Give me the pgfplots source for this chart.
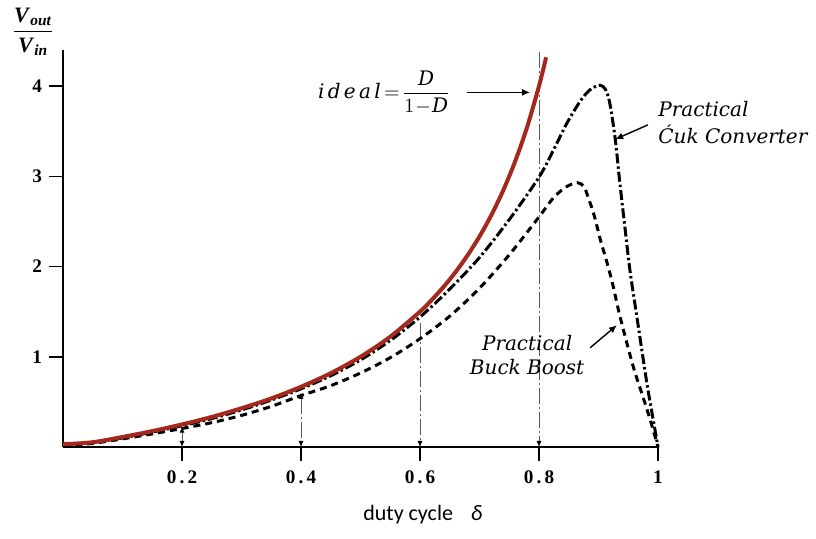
\documentclass[border=0pt]{standalone}
\usepackage{amsmath}
\usepackage{fontspec}
\setmainfont{Liberation Serif}
\newfontfamily\annot{DejaVu Serif}
\newfontfamily\labelf{Carlito}
\usepackage{pgfplots}
\pgfplotsset{compat=1.18}
\usetikzlibrary{arrows.meta}
\definecolor{idealred}{RGB}{165,40,28}
\definecolor{vline}{RGB}{90,90,90}

\begin{document}
\begin{tikzpicture}
\useasboundingbox (0,0) rectangle (408pt,269.5pt);
\begin{axis}[
  at={(31.5pt,46pt)}, anchor=south west,
  scale only axis, width=297.5pt, height=198.5pt,
  xmin=0, xmax=1, ymin=0, ymax=4.4,
  axis x line*=bottom, axis y line*=left,
  axis line style={-, line width=0.9pt},
  xtick={0.2,0.4,0.6,0.8,1},
  xticklabels={\textbf{0\,.\,2},\textbf{0\,.\,4},\textbf{0\,.\,6},\textbf{0\,.\,8},\textbf{1}},
  ytick={1,2,3,4},
  yticklabels={\textbf{1},\textbf{2},\textbf{3},\textbf{4}},
  tick align=outside, major tick length=7pt,
  tick style={line width=0.8pt, black},
  ticklabel style={font=\fontsize{9.6}{11}\selectfont},
  xticklabel style={yshift=-1.5pt},
  clip=false,
]
% vertical dash-dot guide lines
\addplot[vline, line width=0.5pt, dash pattern=on 8pt off 1.5pt on 1pt off 1.5pt,
  {Latex[length=3pt,width=2.6pt,black]}-{Latex[length=3pt,width=2.6pt,black]}]
  coordinates {(0.2,0.225) (0.2,0)};
\addplot[vline, line width=0.5pt, dash pattern=on 8pt off 1.5pt on 1pt off 1.5pt,
  {Latex[length=3pt,width=2.6pt,black]}-{Latex[length=3pt,width=2.6pt,black]}]
  coordinates {(0.4,0.6) (0.4,0)};
\addplot[vline, line width=0.5pt, dash pattern=on 8pt off 1.5pt on 1pt off 1.5pt,
  -{Latex[length=3pt,width=2.6pt,black]}]
  coordinates {(0.6,1.37) (0.6,0)};
\addplot[vline, line width=0.5pt, dash pattern=on 8pt off 1.5pt on 1pt off 1.5pt,
  -{Latex[length=3pt,width=2.6pt,black]}]
  coordinates {(0.8,4.38) (0.8,0)};

% practical buck boost (dashed)
\addplot[black, line width=1.5pt, dash pattern=on 3.5pt off 2.5pt, smooth, tension=0.5]
  coordinates {(0,0.01) (0.05,0.04) (0.1,0.09) (0.15,0.145) (0.2,0.205) (0.25,0.27)
  (0.3,0.35) (0.35,0.45) (0.4,0.57) (0.45,0.68) (0.5,0.82) (0.55,0.99) (0.6,1.2)
  (0.65,1.45) (0.7,1.76) (0.75,2.13) (0.8,2.55) (0.824,2.76) (0.845,2.88) (0.864,2.93)
  (0.875,2.89) (0.882,2.78) (0.893,2.56) (0.903,2.3) (0.914,2.05) (0.924,1.8)
  (0.936,1.45) (0.958,0.9) (0.975,0.55) (0.987,0.3) (1,0)};

% practical Cuk converter (dash-dot)
\addplot[black, line width=1.5pt, dash pattern=on 5pt off 1.5pt on 1.2pt off 1.5pt, smooth, tension=0.5]
  coordinates {(0,0.02) (0.05,0.05) (0.1,0.1) (0.15,0.165) (0.2,0.235) (0.25,0.315)
  (0.3,0.41) (0.35,0.52) (0.4,0.645) (0.45,0.79) (0.5,0.965) (0.55,1.18) (0.6,1.44)
  (0.65,1.75) (0.7,2.1) (0.75,2.52) (0.8,2.99) (0.825,3.3) (0.847,3.59) (0.87,3.84)
  (0.886,3.96) (0.9025,4.01) (0.912,3.96) (0.919,3.81) (0.928,3.42) (0.936,2.92)
  (0.945,2.4) (0.953,1.95) (0.965,1.42) (0.981,0.72) (0.992,0.3) (1,0)};

% ideal D/(1-D)
\addplot[idealred, line width=2pt, smooth]
  coordinates {(0,0.03) (0.05,0.0526) (0.1,0.111) (0.15,0.176) (0.2,0.25) (0.25,0.333)
  (0.3,0.429) (0.35,0.538) (0.4,0.667) (0.45,0.818) (0.5,1.0) (0.55,1.222) (0.6,1.5)
  (0.62,1.632) (0.64,1.778) (0.66,1.941) (0.68,2.125) (0.7,2.333) (0.72,2.571)
  (0.74,2.846) (0.76,3.167) (0.78,3.545) (0.8,4.0) (0.812,4.319)};

% annotation arrows
\addplot[black, line width=0.7pt, -{Latex[length=4pt,width=3.5pt]}]
  coordinates {(0.679,3.93) (0.785,3.93)};
\addplot[black, line width=0.7pt, -{Latex[length=4pt,width=3.5pt]}]
  coordinates {(0.983,3.57) (0.928,3.41)};
\addplot[black, line width=0.7pt, -{Latex[length=4pt,width=3.5pt]}]
  coordinates {(0.886,1.10) (0.931,1.35)};

% texts
\node[anchor=east, inner sep=0pt, font=\annot\fontsize{10}{12}\selectfont]
  at (axis cs:0.652,3.93) {\textit{i\,d\,e\,a\,l}\,$=\!\displaystyle\frac{\textit{D}}{1\!-\!\textit{D}}$};
\node[anchor=west, align=left, inner sep=0pt, font=\annot\itshape\fontsize{10}{13.5}\selectfont]
  at (axis cs:1.0,3.60) {Practical\\Ćuk Converter};
\node[align=center, inner sep=0pt, font=\annot\itshape\fontsize{10}{12}\selectfont]
  at (axis cs:0.78,1.02) {Practical\\Buck Boost};
\node[inner sep=0pt, font=\fontsize{11}{13}\selectfont]
  at (axis cs:-0.05,4.60) {$\displaystyle\frac{\textbf{\textit{V}}_{\textbf{\textit{out}}}}{\textbf{\textit{V}}_{\textbf{\textit{in}}}}$};
\node[anchor=west, inner sep=0pt, font=\labelf\fontsize{11}{13}\selectfont]
  at (axis cs:0.504,-0.753) {duty cycle\hspace{9pt}\textit{δ}};
\end{axis}
\end{tikzpicture}
\end{document}
